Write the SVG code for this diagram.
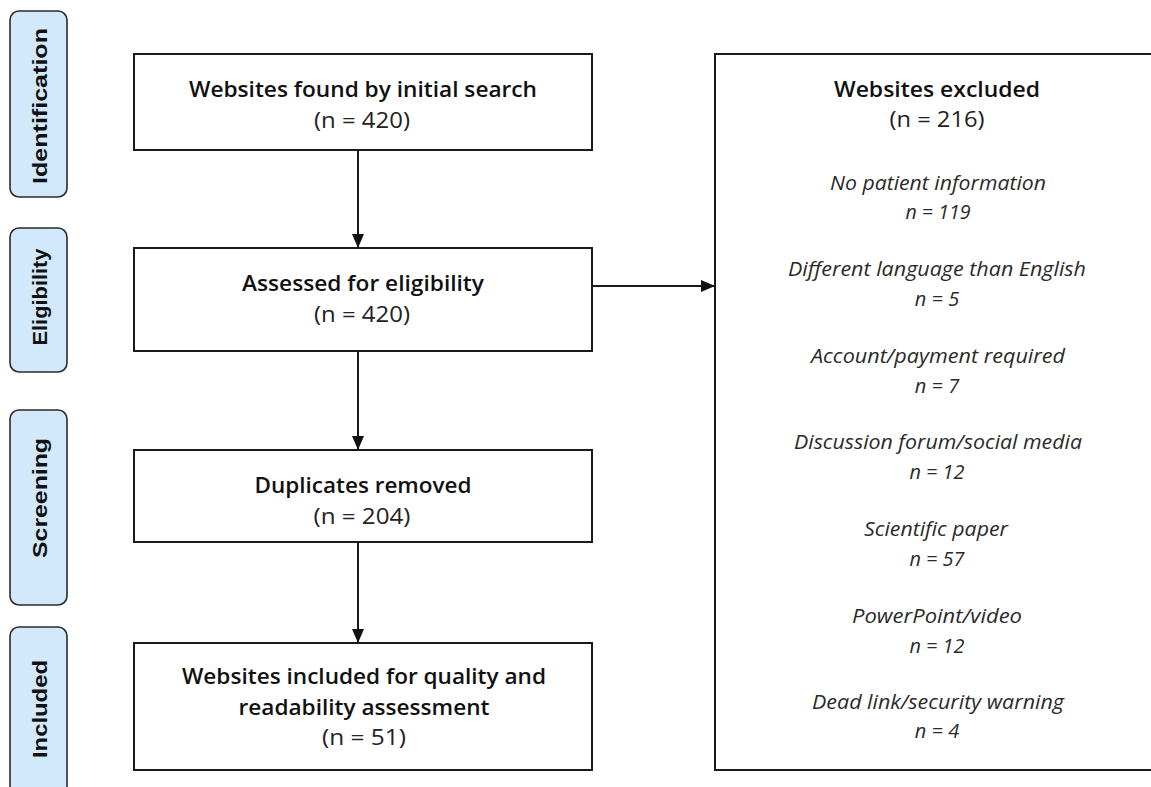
<svg xmlns="http://www.w3.org/2000/svg" width="1151" height="787" viewBox="0 0 1151 787">
<style>
.box{fill:#fff;stroke:#1a1a1a;stroke-width:2}
.phase{fill:#d2e9fb;stroke:#2a2a2a;stroke-width:1.6}
.pt{font-family:"Liberation Sans",Arial,sans-serif;font-weight:bold;font-size:20px;fill:#111;text-anchor:middle;dominant-baseline:central}
.t{font-family:"Open Sans","Liberation Sans",sans-serif;font-weight:600;font-size:21px;fill:#111;text-anchor:middle}
.n{font-family:"Open Sans","Liberation Sans",sans-serif;font-weight:400;font-size:21px;fill:#222;text-anchor:middle}
.i{font-family:"Open Sans","Liberation Sans",sans-serif;font-style:italic;font-weight:400;font-size:20px;fill:#2a2a2a;text-anchor:middle}
.c{stroke:#1a1a1a;stroke-width:2;fill:none}
</style>
<defs>
<marker id="ah" viewBox="0 0 14 12" refX="14" refY="6" markerWidth="14" markerHeight="12" markerUnits="userSpaceOnUse" orient="auto">
<path d="M0,0 L14,6 L0,12 Z" fill="#111"/>
</marker>
</defs>
<rect width="1151" height="787" fill="#fff"/>

<g id="phase-identification">
<rect class="phase" x="10" y="11" width="57" height="186" rx="9"/>
<text class="pt" transform="translate(40,106) rotate(-90)" textLength="156" lengthAdjust="spacingAndGlyphs">Identification</text>
</g>
<g id="phase-eligibility">
<rect class="phase" x="10" y="228" width="57" height="144" rx="9"/>
<text class="pt" transform="translate(40,297) rotate(-90)" textLength="97" lengthAdjust="spacingAndGlyphs">Eligibility</text>
</g>
<g id="phase-screening">
<rect class="phase" x="10" y="410" width="57" height="195" rx="9"/>
<text class="pt" transform="translate(40,498) rotate(-90)" textLength="120" lengthAdjust="spacingAndGlyphs">Screening</text>
</g>
<g id="phase-included">
<rect class="phase" x="10" y="627" width="57" height="180" rx="9"/>
<text class="pt" transform="translate(40,709) rotate(-90)" textLength="98" lengthAdjust="spacingAndGlyphs">Included</text>
</g>

<g id="connectors">
<line class="c" x1="358" y1="150" x2="358" y2="248" marker-end="url(#ah)"/>
<line class="c" x1="358" y1="351" x2="358" y2="450" marker-end="url(#ah)"/>
<line class="c" x1="358" y1="542" x2="358" y2="643" marker-end="url(#ah)"/>
<line class="c" x1="592" y1="286" x2="715" y2="286" marker-end="url(#ah)"/>
</g>

<g id="node-found">
<rect class="box" x="134" y="54" width="458" height="96"/>
<text class="t" x="363" y="97" textLength="348" lengthAdjust="spacingAndGlyphs">Websites found by initial search</text>
<text class="n" x="362" y="128" textLength="96" lengthAdjust="spacingAndGlyphs">(n = 420)</text>
</g>
<g id="node-assessed">
<rect class="box" x="134" y="248" width="458" height="103"/>
<text class="t" x="363" y="291" textLength="242" lengthAdjust="spacingAndGlyphs">Assessed for eligibility</text>
<text class="n" x="362" y="322" textLength="96" lengthAdjust="spacingAndGlyphs">(n = 420)</text>
</g>
<g id="node-duplicates">
<rect class="box" x="134" y="450" width="458" height="92"/>
<text class="t" x="363" y="493" textLength="217" lengthAdjust="spacingAndGlyphs">Duplicates removed</text>
<text class="n" x="362" y="524" textLength="97" lengthAdjust="spacingAndGlyphs">(n = 204)</text>
</g>
<g id="node-included">
<rect class="box" x="134" y="643" width="458" height="127"/>
<text class="t" x="364" y="684" textLength="364" lengthAdjust="spacingAndGlyphs">Websites included for quality and</text>
<text class="t" x="364" y="715" textLength="251" lengthAdjust="spacingAndGlyphs">readability assessment</text>
<text class="n" x="364" y="745" textLength="84" lengthAdjust="spacingAndGlyphs">(n = 51)</text>
</g>
<g id="node-excluded">
<rect class="box" x="715" y="54" width="444" height="716"/>
<text class="t" x="937" y="97" textLength="206" lengthAdjust="spacingAndGlyphs">Websites excluded</text>
<text class="n" x="937" y="127" textLength="95" lengthAdjust="spacingAndGlyphs">(n = 216)</text>
<text class="i" x="938" y="190" textLength="216" lengthAdjust="spacingAndGlyphs">No patient information</text>
<text class="i" x="938" y="219" textLength="65" lengthAdjust="spacingAndGlyphs">n = 119</text>
<text class="i" x="937" y="276" textLength="298" lengthAdjust="spacingAndGlyphs">Different language than English</text>
<text class="i" x="937" y="306">n = 5</text>
<text class="i" x="938" y="363" textLength="254" lengthAdjust="spacingAndGlyphs">Account/payment required</text>
<text class="i" x="937" y="393">n = 7</text>
<text class="i" x="938" y="449" textLength="288" lengthAdjust="spacingAndGlyphs">Discussion forum/social media</text>
<text class="i" x="937" y="479" textLength="55" lengthAdjust="spacingAndGlyphs">n = 12</text>
<text class="i" x="936" y="536" textLength="144" lengthAdjust="spacingAndGlyphs">Scientific paper</text>
<text class="i" x="937" y="566" textLength="55" lengthAdjust="spacingAndGlyphs">n = 57</text>
<text class="i" x="937" y="623" textLength="170" lengthAdjust="spacingAndGlyphs">PowerPoint/video</text>
<text class="i" x="937" y="653" textLength="55" lengthAdjust="spacingAndGlyphs">n = 12</text>
<text class="i" x="938" y="709" textLength="252" lengthAdjust="spacingAndGlyphs">Dead link/security warning</text>
<text class="i" x="937" y="738">n = 4</text>
</g>
</svg>
